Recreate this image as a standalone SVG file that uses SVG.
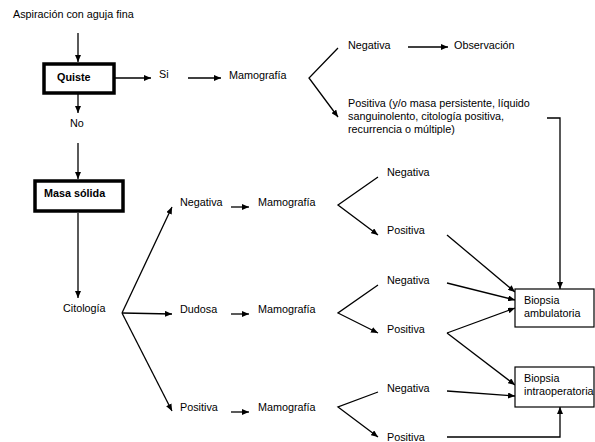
<svg xmlns="http://www.w3.org/2000/svg" width="595" height="442" viewBox="0 0 595 442">
<defs>
<marker id="ah" markerUnits="userSpaceOnUse" markerWidth="8" markerHeight="6" refX="7" refY="3" orient="auto">
<path d="M0,0 L7,3 L0,6 Z" fill="#000"/>
</marker>
<style>
text{font-family:"Liberation Sans",Arial,sans-serif;font-size:10.8px;fill:#000}
.b{font-weight:bold}
.c line,.c polyline{stroke:#000;stroke-width:1.3;fill:none}
.a{marker-end:url(#ah)}
.thick{fill:#fff;stroke:#000;stroke-width:3.5}
.thin{fill:#fff;stroke:#000;stroke-width:1.2}
</style>
</defs>
<rect width="595" height="442" fill="#fff"/>
<g class="c">
<line class="a" x1="78" y1="33" x2="78" y2="62"/>
<line class="a" x1="115" y1="78" x2="151" y2="78"/>
<line class="a" x1="188" y1="78" x2="221" y2="78"/>
<line class="a" x1="78" y1="94" x2="78" y2="113"/>
<line class="a" x1="78" y1="143" x2="78" y2="179"/>
<line class="a" x1="78" y1="213" x2="78" y2="298"/>
<polyline class="a" points="338,48 309,78 338,117"/>
<line class="a" x1="408" y1="47" x2="448" y2="47"/>
<polyline class="a" points="547,118 560,118 560,289"/>
<line class="a" x1="122" y1="313" x2="172" y2="207"/>
<line class="a" x1="122" y1="313" x2="172" y2="314"/>
<line class="a" x1="122" y1="313" x2="172" y2="411"/>
<line class="a" x1="231" y1="207" x2="249" y2="207"/>
<line class="a" x1="231" y1="314" x2="249" y2="314"/>
<line class="a" x1="231" y1="412" x2="249" y2="412"/>
<polyline class="a" points="378,177 338,205 378,235"/>
<polyline class="a" points="378,285 338,313 378,333"/>
<polyline class="a" points="378,392 338,407 378,437"/>
<line class="a" x1="447" y1="235" x2="515" y2="292"/>
<line class="a" x1="447" y1="283" x2="515" y2="300"/>
<line class="a" x1="447" y1="333" x2="515" y2="308"/>
<line class="a" x1="447" y1="333" x2="515" y2="385"/>
<line class="a" x1="447" y1="391" x2="515" y2="396"/>
<polyline class="a" points="447,437 560,437 560,407"/>
</g>
<g id="start"><text x="13" y="18">Aspiración con aguja  fina</text></g>
<g id="quiste"><rect class="thick" x="44" y="64" width="70" height="29"/><text class="b" x="57" y="81">Quiste</text></g>
<g id="si"><text x="159" y="78">Si</text></g>
<g id="mamo0"><text x="229" y="79">Mamografía</text></g>
<g id="no"><text x="70" y="127">No</text></g>
<g id="neg0"><text x="348" y="49">Negativa</text></g>
<g id="obs"><text x="454" y="49">Observación</text></g>
<g id="pos0"><text x="348" y="107">Positiva (y/o masa persistente, líquido</text><text x="348" y="120">sanguinolento, citología positiva,</text><text x="348" y="133">recurrencia  o múltiple)</text></g>
<g id="masa"><rect class="thick" x="35" y="181" width="88" height="30"/><text class="b" x="44" y="197">Masa sólida</text></g>
<g id="cito"><text x="63" y="312">Citología</text></g>
<g id="negc"><text x="180" y="206">Negativa</text></g>
<g id="dud"><text x="180" y="313">Dudosa</text></g>
<g id="posc"><text x="180" y="411">Positiva</text></g>
<g id="mamo1"><text x="258" y="206">Mamografía</text></g>
<g id="mamo2"><text x="258" y="313">Mamografía</text></g>
<g id="mamo3"><text x="258" y="411">Mamografía</text></g>
<g id="neg1"><text x="387" y="176">Negativa</text></g>
<g id="pos1"><text x="387" y="234">Positiva</text></g>
<g id="neg2"><text x="387" y="284">Negativa</text></g>
<g id="pos2"><text x="387" y="333">Positiva</text></g>
<g id="neg3"><text x="387" y="392">Negativa</text></g>
<g id="pos3"><text x="387" y="441">Positiva</text></g>
<g id="bamb"><rect class="thin" x="515" y="289" width="79" height="38"/><text x="524" y="304">Biopsia</text><text x="524" y="317">ambulatoria</text></g>
<g id="bint"><rect class="thin" x="515" y="367" width="79" height="40"/><text x="524" y="382">Biopsia</text><text x="524" y="395">intraoperatoria</text></g>
</svg>
